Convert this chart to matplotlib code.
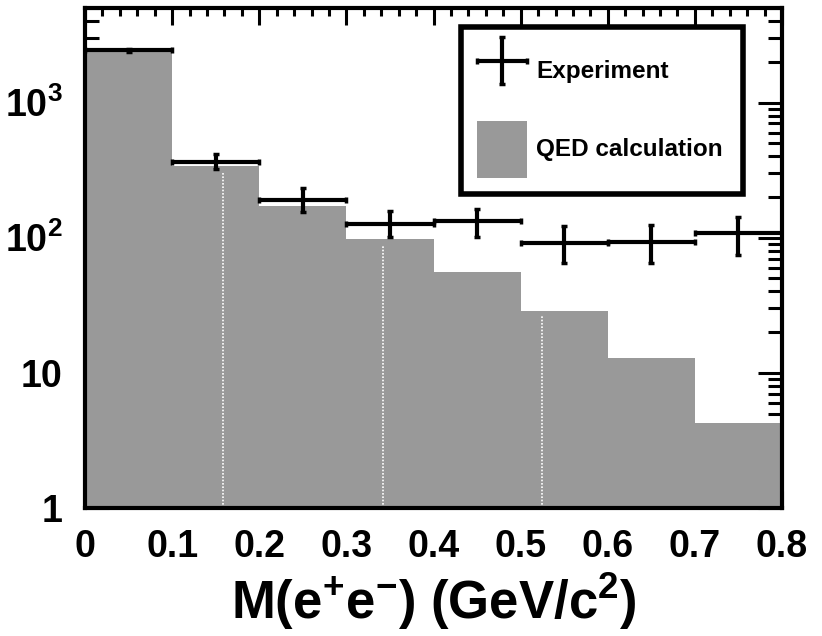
import matplotlib
matplotlib.use('Agg')
import matplotlib.pyplot as plt
from matplotlib.patches import Patch
from matplotlib.legend_handler import HandlerErrorbar
from matplotlib.container import ErrorbarContainer
from matplotlib.ticker import MultipleLocator, FixedLocator, LogLocator, NullFormatter

plt.rcParams['font.family'] = ['Liberation Sans', 'DejaVu Sans']
plt.rcParams['font.weight'] = 'bold'
plt.rcParams['mathtext.default'] = 'regular'

# M(e+e-) bins, GeV/c^2
bin_edges = [0.0, 0.1, 0.2, 0.3, 0.4, 0.5, 0.6, 0.7, 0.8]
bin_centers = [0.05, 0.15, 0.25, 0.35, 0.45, 0.55, 0.65, 0.75]

# QED calculation (grey histogram)
qed = [2400, 340, 173, 98, 56, 28.8, 12.9, 4.26]

# experiment with errors
exp_y = [2430, 366, 191, 127, 134, 92, 93, 109]
exp_err_lo = [60, 45, 35, 25, 32, 27, 28, 34]
exp_err_hi = [60, 53, 44, 31, 30, 29, 32, 34]

# thin white seams visible in the grey fill
seam_x = [0.158, 0.342, 0.525]
seam_top = [308, 89, 27]

x_ticks = [0.0, 0.1, 0.2, 0.3, 0.4, 0.5, 0.6, 0.7, 0.8]
x_labels = ['0', '0.1', '0.2', '0.3', '0.4', '0.5', '0.6', '0.7', '0.8']
y_ticks = [1, 10, 100, 1000]
y_labels = ['1', '10', r'$10^{2}$', r'$10^{3}$']

grey = '#999999'

fig = plt.figure(figsize=(8.22, 6.36), dpi=100)
ax = fig.add_axes([0.1034, 0.2013, 0.848, 0.786])

widths = [b - a for a, b in zip(bin_edges[:-1], bin_edges[1:])]
ax.bar(bin_edges[:-1], qed, width=widths, align='edge', color=grey,
       edgecolor='none', zorder=1)
ax.vlines(seam_x, 1, seam_top, colors='white', linewidth=1.2,
          linestyles=(0, (1, 1)), zorder=1.5)

half_w = [w / 2 for w in widths]
errs = ax.errorbar(bin_centers, exp_y, xerr=half_w, yerr=[exp_err_lo, exp_err_hi],
                   fmt='none', ecolor='black', elinewidth=3, capsize=2,
                   capthick=2.5, zorder=3)

ax.set_yscale('log')
ax.set_xlim(0, 0.8)
ax.set_ylim(1, 5000)

ax.xaxis.set_major_locator(FixedLocator(x_ticks))
ax.set_xticklabels(x_labels)
ax.xaxis.set_minor_locator(MultipleLocator(0.02))
ax.yaxis.set_major_locator(FixedLocator(y_ticks))
ax.set_yticklabels(y_labels)
ax.yaxis.set_minor_locator(LogLocator(base=10, subs=range(2, 10)))
ax.yaxis.set_minor_formatter(NullFormatter())

ax.set_axisbelow(True)
ax.tick_params(which='both', direction='in', top=True, right=True, width=2.2,
               colors='black')
ax.tick_params(axis='x', which='major', length=12, labelsize=27, pad=15)
ax.tick_params(axis='x', which='minor', length=6)
ax.tick_params(axis='y', which='major', length=17, labelsize=27, pad=16)
ax.tick_params(axis='y', which='minor', length=10)

for sp in ax.spines.values():
    sp.set_linewidth(3)

ax.set_xlabel(r'M(e$^{+}$e$^{-}$) (GeV/c$^{2}$)', fontsize=38,
              fontweight='bold', labelpad=4)

handles = [errs, Patch(facecolor=grey, edgecolor='none')]
leg = ax.legend(handles, ['Experiment', 'QED calculation'],
                loc='upper left', bbox_to_anchor=(0.539, 0.636, 0.405, 0.326),
                mode='expand', borderaxespad=0, fontsize=17.5,
                handlelength=2.06, handleheight=3.24, handletextpad=0.4,
                labelspacing=0.85, borderpad=0.65, fancybox=False,
                framealpha=1, edgecolor='black',
                handler_map={ErrorbarContainer: HandlerErrorbar(xerr_size=1.03, yerr_size=0.97)})
leg.get_frame().set_linewidth(4)

fig.savefig('out.png', dpi=100)
